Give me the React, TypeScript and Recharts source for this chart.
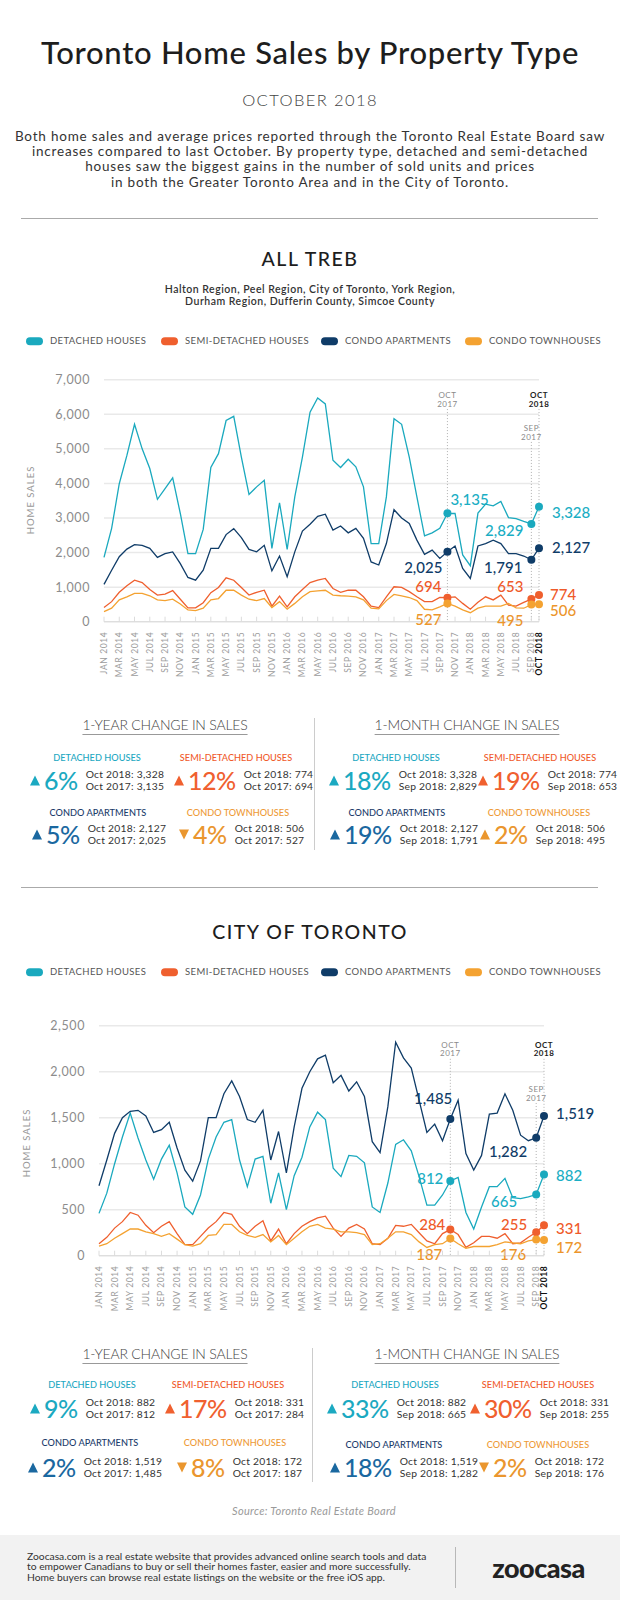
import React from "react";
import {
  LineChart,
  Line,
  XAxis,
  YAxis,
  CartesianGrid,
  ReferenceLine,
} from "recharts";

const FONT = "Lato, 'Open Sans', sans-serif";

const months = [
  "JAN 2014", "FEB 2014", "MAR 2014", "APR 2014", "MAY 2014", "JUN 2014",
  "JUL 2014", "AUG 2014", "SEP 2014", "OCT 2014", "NOV 2014", "DEC 2014",
  "JAN 2015", "FEB 2015", "MAR 2015", "APR 2015", "MAY 2015", "JUN 2015",
  "JUL 2015", "AUG 2015", "SEP 2015", "OCT 2015", "NOV 2015", "DEC 2015",
  "JAN 2016", "FEB 2016", "MAR 2016", "APR 2016", "MAY 2016", "JUN 2016",
  "JUL 2016", "AUG 2016", "SEP 2016", "OCT 2016", "NOV 2016", "DEC 2016",
  "JAN 2017", "FEB 2017", "MAR 2017", "APR 2017", "MAY 2017", "JUN 2017",
  "JUL 2017", "AUG 2017", "SEP 2017", "OCT 2017", "NOV 2017", "DEC 2017",
  "JAN 2018", "FEB 2018", "MAR 2018", "APR 2018", "MAY 2018", "JUN 2018",
  "JUL 2018", "AUG 2018", "SEP 2018", "OCT 2018",
];

// All TREB
const trebDetached = [
  1860, 2700, 3990, 4810, 5710, 5000, 4430, 3540, 3850, 4160, 3130, 1970,
  1970, 2670, 4460, 4860, 5820, 5940, 4760, 3680, 3900, 4090, 2120, 3440,
  2090, 3610, 4760, 6060, 6470, 6300, 4670, 4460, 4700, 4480, 3900, 2260,
  2260, 3610, 5870, 5710, 4760, 3610, 2480, 2570, 2700, 3135, 3130, 1930,
  1620, 3140, 3400, 3350, 3480, 3010, 2980, 2900, 2829, 3328,
];
const trebSemi = [
  410, 580, 850, 1040, 1200, 1130, 930, 770, 800, 900, 650, 400,
  400, 550, 840, 990, 1270, 1200, 990, 770, 850, 910, 450, 740,
  430, 720, 930, 1130, 1200, 1250, 960, 850, 910, 910, 720, 450,
  410, 720, 1010, 990, 870, 720, 580, 580, 700, 694, 720, 530,
  360, 560, 720, 630, 770, 480, 450, 560, 653, 774,
];
const trebApt = [
  1080, 1490, 1880, 2100, 2230, 2210, 2120, 1860, 1970, 2020, 1680, 1280,
  1200, 1490, 2120, 2120, 2520, 2690, 2430, 2090, 2020, 2210, 1470, 1900,
  1300, 2020, 2620, 2820, 3050, 3110, 2650, 2770, 2570, 2700, 2410, 1730,
  1640, 2260, 3240, 3000, 2840, 2360, 1950, 2070, 1830, 2025, 2190, 1540,
  1250, 2190, 2260, 2360, 2260, 1970, 1970, 1900, 1791, 2127,
];
const trebTown = [
  290, 390, 630, 720, 820, 820, 750, 630, 610, 650, 510, 340,
  320, 390, 630, 670, 910, 910, 770, 650, 610, 670, 410, 580,
  360, 530, 720, 870, 890, 910, 770, 750, 740, 720, 630, 390,
  370, 610, 790, 750, 700, 610, 360, 340, 430, 527, 450, 340,
  260, 390, 450, 450, 450, 530, 400, 390, 495, 506,
];

// City of Toronto
const cityDetached = [
  460, 680, 1000, 1290, 1550, 1280, 1040, 830, 1050, 1200, 900, 530,
  450, 660, 1050, 1290, 1450, 1480, 1040, 750, 1050, 1080, 570, 900,
  500, 870, 1070, 1400, 1560, 1480, 950, 860, 1090, 1080, 1010, 530,
  470, 790, 1210, 1260, 1140, 860, 550, 550, 660, 812, 850, 470,
  290, 530, 750, 750, 840, 630, 620, 640, 665, 882,
];
const citySemi = [
  130, 200, 300, 370, 470, 440, 330, 250, 320, 370, 240, 120,
  120, 210, 300, 370, 470, 450, 320, 240, 320, 380, 160, 290,
  130, 240, 320, 370, 410, 430, 300, 210, 300, 340, 290, 130,
  120, 190, 330, 320, 340, 250, 160, 130, 240, 284, 230, 90,
  140, 210, 210, 190, 240, 130, 140, 200, 255, 331,
];
const cityApt = [
  760, 1040, 1330, 1500, 1570, 1580, 1520, 1340, 1370, 1450, 1170, 930,
  810, 1030, 1500, 1500, 1760, 1900, 1730, 1480, 1450, 1580, 1040, 1350,
  900, 1400, 1820, 2000, 2140, 2180, 1880, 1960, 1790, 1890, 1730, 1240,
  1120, 1620, 2320, 2150, 2040, 1690, 1340, 1430, 1250, 1485, 1690, 1110,
  930, 1090, 1540, 1550, 1760, 1580, 1310, 1250, 1282, 1519,
];
const cityTown = [
  105, 130, 190, 240, 290, 290, 260, 240, 210, 240, 180, 120,
  105, 130, 220, 230, 340, 340, 260, 220, 200, 230, 150, 220,
  120, 190, 260, 320, 340, 300, 290, 260, 260, 250, 230, 120,
  130, 190, 260, 260, 230, 150, 90, 120, 130, 187, 130, 80,
  100, 100, 100, 120, 150, 140, 130, 160, 176, 172,
];

const trebTicks = [0, 1000, 2000, 3000, 4000, 5000, 6000, 7000];
const cityTicks = [0, 500, 1000, 1500, 2000, 2500];

const introLines = [
  "Both home sales and average prices reported through the Toronto Real Estate Board saw",
  "increases compared to last October. By property type, detached and semi-detached",
  "houses saw the biggest gains in the number of sold units and prices",
  "in both the Greater Toronto Area and in the City of Toronto.",
];
const regionLines = [
  "Halton Region, Peel Region, City of Toronto, York Region,",
  "Durham Region, Dufferin County, Simcoe County",
];
const footerLines = [
  "Zoocasa.com is a real estate website that provides advanced online search tools and data",
  "to empower Canadians to buy or sell their homes faster, easier and more successfully.",
  "Home buyers can browse real estate listings on the website or the free iOS app.",
];

const SERIES = [
  { key: "detached", name: "DETACHED HOUSES", color: "#1aa9be", text: "#1aaec4", head: "#22a8c2", pct: "#1ba9c1" },
  { key: "semi", name: "SEMI-DETACHED HOUSES", color: "#ef5f2e", text: "#ef5a2a", head: "#f05a2b", pct: "#f0602f" },
  { key: "apt", name: "CONDO APARTMENTS", color: "#0f3c68", text: "#0f3c68", head: "#1c3c6b", pct: "#1a68a0" },
  { key: "town", name: "CONDO TOWNHOUSES", color: "#f4a231", text: "#ec952b", head: "#ee9a37", pct: "#ea962e" },
];

const trebRows = months.map((m, i) => ({
  month: m,
  detached: trebDetached[i],
  semi: trebSemi[i],
  apt: trebApt[i],
  town: trebTown[i],
}));
const cityRows = months.map((m, i) => ({
  month: m,
  detached: cityDetached[i],
  semi: citySemi[i],
  apt: cityApt[i],
  town: cityTown[i],
}));

type Note = { dx: number; dy: number; anchor: "start" | "end" };
type Notes = Record<string, Record<number, Note>>;

const trebNotes: Notes = {
  detached: { 45: { dx: 3, dy: -14, anchor: "start" }, 56: { dx: -8, dy: 6, anchor: "end" }, 57: { dx: 13, dy: 5, anchor: "start" } },
  apt: { 45: { dx: -5, dy: 15, anchor: "end" }, 56: { dx: -9, dy: 7, anchor: "end" }, 57: { dx: 13, dy: -1, anchor: "start" } },
  semi: { 45: { dx: -6, dy: -12, anchor: "end" }, 56: { dx: -8, dy: -13, anchor: "end" }, 57: { dx: 11, dy: -1, anchor: "start" } },
  town: { 45: { dx: -6, dy: 16, anchor: "end" }, 56: { dx: -8, dy: 15, anchor: "end" }, 57: { dx: 11, dy: 6, anchor: "start" } },
};
const cityNotes: Notes = {
  apt: { 45: { dx: 2, dy: -21, anchor: "end" }, 56: { dx: -9, dy: 13, anchor: "end" }, 57: { dx: 12, dy: -3, anchor: "start" } },
  detached: { 45: { dx: -7, dy: -3, anchor: "end" }, 56: { dx: -19, dy: 6, anchor: "end" }, 57: { dx: 12, dy: 0, anchor: "start" } },
  semi: { 45: { dx: -5, dy: -6, anchor: "end" }, 56: { dx: -9, dy: -8, anchor: "end" }, 57: { dx: 12, dy: 3, anchor: "start" } },
  town: { 45: { dx: -8, dy: 16, anchor: "end" }, 56: { dx: -10, dy: 14, anchor: "end" }, 57: { dx: 12, dy: 7, anchor: "start" } },
};

type Mark = { x: string; top: number; l1: string; l2: string; bold?: boolean };
const trebMarks: Mark[] = [
  { x: "OCT 2017", top: 6150, l1: "OCT", l2: "2017" },
  { x: "SEP 2018", top: 5200, l1: "SEP", l2: "2017" },
  { x: "OCT 2018", top: 6150, l1: "OCT", l2: "2018", bold: true },
];
const cityMarks: Mark[] = [
  { x: "OCT 2017", top: 2140, l1: "OCT", l2: "2017" },
  { x: "SEP 2018", top: 1660, l1: "SEP", l2: "2017" },
  { x: "OCT 2018", top: 2140, l1: "OCT", l2: "2018", bold: true },
];

const MonthTick = (props: any) => {
  const { x, y, payload } = props;
  const i = months.indexOf(payload.value);
  const last = i === months.length - 1;
  if (i % 2 !== 0 && !last) return <g />;
  return (
    <g transform={`translate(${x},${y})`}>
      <line x1={0} x2={0} y1={-5} y2={0} stroke="#dcdcdc" />
      <text
        transform="rotate(-90)"
        x={-10}
        y={3}
        textAnchor="end"
        fontSize={8.5}
        letterSpacing={0.6}
        fill={last ? "#111" : "#9c9c9c"}
        fontWeight={last ? 700 : 400}
      >
        {payload.value}
      </text>
    </g>
  );
};

const makeDot = (notes: Record<number, Note>, key: string, color: string, text: string) =>
  (props: any) => {
    const { cx, cy, index, payload } = props;
    const n = notes ? notes[index] : undefined;
    if (!n) return <g key={`${key}-${index}`} />;
    return (
      <g key={`${key}-${index}`}>
        <circle cx={cx} cy={cy} r={4} fill={color} />
        <text
          x={cx + n.dx}
          y={cy + n.dy}
          textAnchor={n.anchor}
          dominantBaseline="central"
          fontSize={15}
          fontWeight={500}
          fill={text}
        >
          {payload[key].toLocaleString("en-US")}
        </text>
      </g>
    );
  };

const markLabel = (m: Mark) => (props: any) => {
  const vb = props.viewBox || {};
  const x = vb.x;
  const y = vb.y;
  return (
    <text
      x={x}
      y={y - 11}
      textAnchor="middle"
      fontSize={8}
      letterSpacing={0.5}
      fill={m.bold ? "#222" : "#8a8a8a"}
      fontWeight={m.bold ? 700 : 400}
    >
      <tspan x={x}>{m.l1}</tspan>
      <tspan x={x} dy={8.6}>{m.l2}</tspan>
    </text>
  );
};

type ChartProps = {
  rows: any[];
  yMax: number;
  yTicks: number[];
  yWidth: number;
  mTop: number;
  mRight: number;
  xHeight: number;
  notes: Notes;
  marks: Mark[];
};

const SalesChart = ({ rows, yMax, yTicks, yWidth, mTop, mRight, xHeight, notes, marks }: ChartProps) => (
  <LineChart width={620} height={330} data={rows} margin={{ top: mTop, right: mRight, bottom: 0, left: 0 }}>
    <CartesianGrid vertical={false} stroke="#e9e9e9" strokeWidth={1.5} />
    <XAxis
      dataKey="month"
      interval={0}
      tickLine={false}
      tickSize={0}
      tickMargin={0}
      axisLine={{ stroke: "#dcdcdc" }}
      height={xHeight}
      tick={<MonthTick />}
    />
    <YAxis
      domain={[0, yMax]}
      ticks={yTicks}
      interval={0}
      width={yWidth}
      axisLine={false}
      tickLine={false}
      tickSize={0}
      tickMargin={14}
      tick={{ fontSize: 12.5, fill: "#8c8c8c", letterSpacing: 0.6 }}
      tickFormatter={(v: number) => v.toLocaleString("en-US")}
    />
    {marks.map((m) => (
      <ReferenceLine
        key={m.x}
        segment={[{ x: m.x, y: m.top }, { x: m.x, y: 0 }]}
        stroke="#b0b0b0"
        strokeDasharray="1 2"
        label={markLabel(m)}
      />
    ))}
    {SERIES.map((s) => (
      <Line
        key={s.key}
        dataKey={s.key}
        type="linear"
        stroke={s.color}
        strokeWidth={1.3}
        dot={makeDot(notes[s.key], s.key, s.color, s.text)}
        activeDot={false}
        isAnimationActive={false}
      />
    ))}
  </LineChart>
);

const Center = ({ x = 310, y, size, color = "#222", weight = 400, style, children }: any) => (
  <div
    style={{
      position: "absolute",
      left: x,
      top: y,
      transform: "translate(-50%,-50%)",
      fontSize: size,
      color,
      fontWeight: weight,
      lineHeight: 1,
      whiteSpace: "nowrap",
      ...style,
    }}
  >
    {children}
  </div>
);

const Rule = ({ y }: { y: number }) => (
  <div style={{ position: "absolute", left: 21, width: 577, top: y, height: 1, background: "#aaa" }} />
);

const legendX = [26, 161, 321, 465];

const Legend = ({ y }: { y: number }) => (
  <>
    {SERIES.map((s, i) => (
      <div
        key={s.key}
        style={{ position: "absolute", left: legendX[i], top: y, transform: "translateY(-50%)", display: "flex", alignItems: "center" }}
      >
        <div style={{ width: 17, height: 8, borderRadius: 4, background: s.color }} />
        <div style={{ marginLeft: 7, fontSize: 9.5, letterSpacing: 0.4, color: "#555", lineHeight: 1, whiteSpace: "nowrap" }}>
          {s.name}
        </div>
      </div>
    ))}
  </>
);

const YLabel = ({ x, y }: { x: number; y: number }) => (
  <div
    style={{
      position: "absolute",
      left: x,
      top: y,
      transform: "translate(-50%,-50%) rotate(-90deg)",
      fontSize: 9.5,
      letterSpacing: 1,
      color: "#999",
      whiteSpace: "nowrap",
      lineHeight: 1,
    }}
  >
    HOME SALES
  </div>
);

type Stat = { kind: number; pct: string; up: boolean; lines: string[] };
type Spot = { hx: number; hy: number; tx: number; ry: number };

const trebStats: Stat[] = [
  { kind: 0, pct: "6%", up: true, lines: ["Oct 2018: 3,328", "Oct 2017: 3,135"] },
  { kind: 1, pct: "12%", up: true, lines: ["Oct 2018: 774", "Oct 2017: 694"] },
  { kind: 2, pct: "5%", up: true, lines: ["Oct 2018: 2,127", "Oct 2017: 2,025"] },
  { kind: 3, pct: "4%", up: false, lines: ["Oct 2018: 506", "Oct 2017: 527"] },
  { kind: 0, pct: "18%", up: true, lines: ["Oct 2018: 3,328", "Sep 2018: 2,829"] },
  { kind: 1, pct: "19%", up: true, lines: ["Oct 2018: 774", "Sep 2018: 653"] },
  { kind: 2, pct: "19%", up: true, lines: ["Oct 2018: 2,127", "Sep 2018: 1,791"] },
  { kind: 3, pct: "2%", up: true, lines: ["Oct 2018: 506", "Sep 2018: 495"] },
];
const cityStats: Stat[] = [
  { kind: 0, pct: "9%", up: true, lines: ["Oct 2018: 882", "Oct 2017: 812"] },
  { kind: 1, pct: "17%", up: true, lines: ["Oct 2018: 331", "Oct 2017: 284"] },
  { kind: 2, pct: "2%", up: true, lines: ["Oct 2018: 1,519", "Oct 2017: 1,485"] },
  { kind: 3, pct: "8%", up: false, lines: ["Oct 2018: 172", "Oct 2017: 187"] },
  { kind: 0, pct: "33%", up: true, lines: ["Oct 2018: 882", "Sep 2018: 665"] },
  { kind: 1, pct: "30%", up: true, lines: ["Oct 2018: 331", "Sep 2018: 255"] },
  { kind: 2, pct: "18%", up: true, lines: ["Oct 2018: 1,519", "Sep 2018: 1,282"] },
  { kind: 3, pct: "2%", up: false, lines: ["Oct 2018: 172", "Sep 2018: 176"] },
];

const trebSpots: Spot[] = [
  { hx: 97, hy: 758, tx: 30, ry: 780 },
  { hx: 236, hy: 758, tx: 174, ry: 780 },
  { hx: 98, hy: 813, tx: 32, ry: 834 },
  { hx: 238, hy: 813, tx: 179, ry: 834 },
  { hx: 396, hy: 758, tx: 329, ry: 780 },
  { hx: 540, hy: 758, tx: 478, ry: 780 },
  { hx: 397, hy: 813, tx: 330, ry: 834 },
  { hx: 539, hy: 813, tx: 480, ry: 834 },
];
const citySpots: Spot[] = [
  { hx: 92, hy: 1385, tx: 30, ry: 1408 },
  { hx: 228, hy: 1385, tx: 165, ry: 1408 },
  { hx: 90, hy: 1443, tx: 28, ry: 1467 },
  { hx: 235, hy: 1443, tx: 177, ry: 1467 },
  { hx: 395, hy: 1385, tx: 327, ry: 1408 },
  { hx: 538, hy: 1385, tx: 470, ry: 1408 },
  { hx: 394, hy: 1445, tx: 330, ry: 1467 },
  { hx: 538, hy: 1445, tx: 479, ry: 1467 },
];

const StatBlock = ({ s, p }: { s: Stat; p: Spot }) => {
  const c = SERIES[s.kind];
  const tri = s.up
    ? { borderLeft: "5px solid transparent", borderRight: "5px solid transparent", borderBottom: `10px solid ${c.pct}` }
    : { borderLeft: "5px solid transparent", borderRight: "5px solid transparent", borderTop: `10px solid ${c.pct}` };
  return (
    <>
      <Center x={p.hx} y={p.hy} size={9.2} color={c.head} weight={500} style={{ letterSpacing: 0 }}>
        {c.name}
      </Center>
      <div
        style={{ position: "absolute", left: p.tx, top: p.ry, transform: "translateY(-50%)", display: "flex", alignItems: "center" }}
      >
        <div style={{ width: 0, height: 0, ...tri }} />
        <div style={{ marginLeft: 4, fontSize: 25, fontWeight: 500, color: c.pct, lineHeight: 1, letterSpacing: -0.5 }}>
          {s.pct}
        </div>
        <div style={{ marginLeft: 8, fontSize: 10.3, letterSpacing: 0.25, color: "#333", lineHeight: "11.5px", whiteSpace: "nowrap" }}>
          <div>{s.lines[0]}</div>
          <div>{s.lines[1]}</div>
        </div>
      </div>
    </>
  );
};

const headStyle = {
  textDecoration: "underline",
  textUnderlineOffset: 4,
  textDecorationColor: "#999",
  letterSpacing: -0.2,
};

const StatSection = ({ y, stats, spots, divX, divTop, divH }: any) => (
  <>
    <Center x={165} y={y} size={14} weight={300} color="#444" style={headStyle}>
      1-YEAR CHANGE IN SALES
    </Center>
    <Center x={467} y={y} size={14} weight={300} color="#444" style={headStyle}>
      1-MONTH CHANGE IN SALES
    </Center>
    <div style={{ position: "absolute", left: divX, top: divTop, width: 1, height: divH, background: "#ccc" }} />
    {stats.map((s: Stat, i: number) => (
      <StatBlock key={i} s={s} p={spots[i]} />
    ))}
  </>
);

export default function App() {
  return (
    <div
      style={{
        position: "relative",
        width: 620,
        height: 1600,
        overflow: "hidden",
        background: "#fff",
        fontFamily: FONT,
        color: "#222",
      }}
    >
      <style>{"body{margin:0}"}</style>

      <Center y={52} size={31} weight={500} color="#1d1d1d" style={{ letterSpacing: 0.7 }}>
        Toronto Home Sales by Property Type
      </Center>
      <Center y={100} size={16.5} weight={300} color="#444" style={{ letterSpacing: 1.4 }}>
        OCTOBER 2018
      </Center>
      {introLines.map((l, i) => (
        <Center key={i} y={137 + i * 15.2} size={13.5} color="#333" style={{ letterSpacing: 0.8 }}>
          {l}
        </Center>
      ))}
      <Rule y={218} />

      <Center y={259} size={19.5} weight={500} color="#1d1d1d" style={{ letterSpacing: 1.5 }}>
        ALL TREB
      </Center>
      {regionLines.map((l, i) => (
        <Center key={i} y={288.5 + i * 12.7} size={10.5} weight={600} color="#333" style={{ letterSpacing: 0.5 }}>
          {l}
        </Center>
      ))}
      <Legend y={341} />
      <div style={{ position: "absolute", left: 0, top: 360 }}>
        <SalesChart
          rows={trebRows}
          yMax={7000}
          yTicks={trebTicks}
          yWidth={104}
          mTop={19.7}
          mRight={81}
          xHeight={68.3}
          notes={trebNotes}
          marks={trebMarks}
        />
      </div>
      <YLabel x={30.5} y={500} />

      <StatSection y={725} stats={trebStats} spots={trebSpots} divX={314} divTop={718} divH={132} />
      <Rule y={887} />

      <Center y={932} size={19.5} weight={500} color="#1d1d1d" style={{ letterSpacing: 1.5 }}>
        CITY OF TORONTO
      </Center>
      <Legend y={972} />
      <div style={{ position: "absolute", left: 0, top: 1000 }}>
        <SalesChart
          rows={cityRows}
          yMax={2500}
          yTicks={cityTicks}
          yWidth={99}
          mTop={25.7}
          mRight={76}
          xHeight={74.3}
          notes={cityNotes}
          marks={cityMarks}
        />
      </div>
      <YLabel x={26.5} y={1143} />

      <StatSection y={1354} stats={cityStats} spots={citySpots} divX={312} divTop={1348} divH={134} />

      <Center x={314} y={1510} size={11} color="#9a9a9a" style={{ fontStyle: "italic", letterSpacing: 0.3 }}>
        Source: Toronto Real Estate Board
      </Center>

      <div style={{ position: "absolute", left: 0, top: 1535, width: 620, height: 65, background: "#f2f2f2" }} />
      {footerLines.map((l, i) => (
        <div
          key={i}
          style={{
            position: "absolute",
            left: 27,
            top: 1556 + i * 10.4,
            transform: "translateY(-50%)",
            fontSize: 10.3,
            color: "#333",
            lineHeight: 1,
            whiteSpace: "nowrap",
          }}
        >
          {l}
        </div>
      ))}
      <div style={{ position: "absolute", left: 455, top: 1547, width: 1, height: 41, background: "#b8b8b8" }} />
      <Center x={538.5} y={1567} size={27} weight={900} color="#222" style={{ letterSpacing: -0.5 }}>
        zoocasa
      </Center>
    </div>
  );
}
